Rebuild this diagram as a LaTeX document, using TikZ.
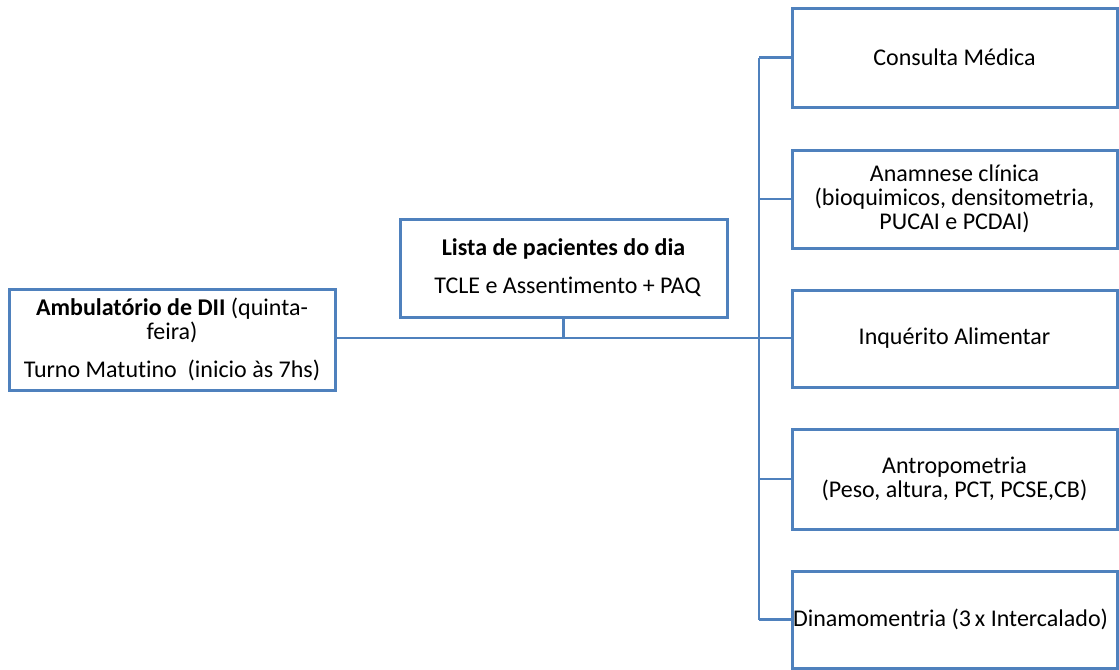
\documentclass[tikz,border=0pt]{standalone}
\usepackage{fontspec}
\setmainfont{Carlito}[Ligatures=CommonOff]
\definecolor{boxblue}{RGB}{79,129,189}
\begin{document}
\begin{tikzpicture}[x=0.75pt,y=-0.75pt,
  box/.style={draw=boxblue,line width=2.25pt,fill=white,inner sep=0pt,align=center,
    font=\fontsize{18pt}{18pt}\selectfont},
  conn/.style={draw=boxblue,line width=1.8pt},
  thin/.style={draw=boxblue,line width=0.9pt}]
\useasboundingbox (0,0) rectangle (1119,669);
\node[box,minimum width=244.5pt,minimum height=75.75pt] (L) at (172,339.5)
  {\textbf{Ambulatório de DII} (quinta-\\feira)\\[10.5pt] Turno Matutino\ \ (inicio às 7hs)};
\node[box,minimum width=245.25pt,minimum height=73.5pt] (M) at (563.5,268)
  {\textbf{Lista de pacientes do dia}\\[10.5pt]\hspace*{6pt}TCLE e Assentimento + PAQ};
\node[box,minimum width=243.75pt,minimum height=74.25pt] (C) at (954.5,57.5) {Consulta Médica};
\node[box,minimum width=243.75pt,minimum height=73.5pt] (A) at (954.5,199)
  {Anamnese clínica\\(bioquimicos, densitometria,\\PUCAI e PCDAI)};
\node[box,minimum width=243.75pt,minimum height=72.75pt] (I) at (954.5,338.5) {Inquérito Alimentar};
\node[box,minimum width=243.75pt,minimum height=75pt] (P) at (954.5,479)
  {Antropometria\\(Peso, altura, PCT, PCSE,CB)};
\node[box,minimum width=243.75pt,minimum height=72.75pt] (D) at (954.5,619.5)
  {\hspace*{-6pt}Dinamomentria (3\,x Intercalado)};
\coordinate (J) at (759,338);
\draw[conn] (L.east |- J) -- (J);
\draw[conn] (M.south) -- (M.south |- J);
\draw[conn] (J |- C.west) -- (J |- D.west);
\draw[conn] (J |- C.west) -- (C.west);
\draw[conn] (J |- A.west) -- (A.west);
\draw[thin] (J) -- (I.west |- J);
\draw[conn] (J |- P.west) -- (P.west);
\draw[conn] (J |- D.west) -- (D.west);
\end{tikzpicture}
\end{document}
